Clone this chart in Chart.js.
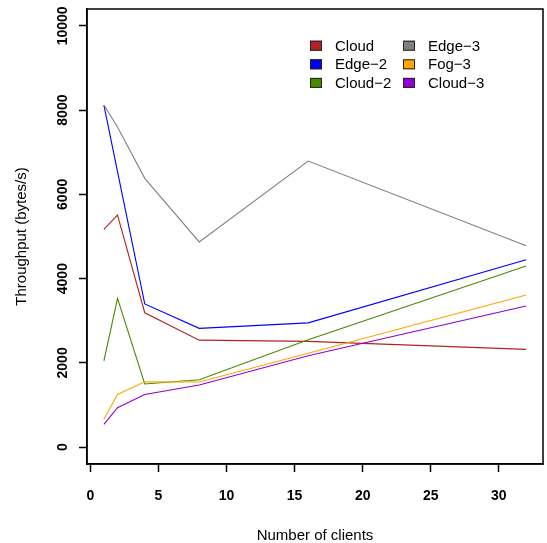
<!DOCTYPE html>
<html>
<head>
<meta charset="utf-8">
<script src="https://cdn.jsdelivr.net/npm/chart.js@4/dist/chart.umd.min.js"></script>
<style>
  html, body { margin: 0; padding: 0; background: #fff; }
  #wrap { width: 547px; height: 543px; }
</style>
</head>
<body>
<div id="wrap"><canvas id="c" width="547" height="543"></canvas></div>
<script>
// Number of concurrent clients per run
const clients = [1, 2, 4, 8, 16, 32];

// Throughput (bytes/s) per deployment
const cloud   = [5170, 5510, 3190, 2540, 2510, 2320];
const edge2   = [8120, 6540, 3400, 2820, 2950, 4450];
const cloud2  = [2050, 3530, 1500, 1600, 2550, 4300];
const edge3   = [8120, 7600, 6380, 4870, 6790, 4780];
const fog3    = [660, 1250, 1550, 1545, 2230, 3610];
const cloud3  = [540, 935, 1250, 1475, 2170, 3350];

const seriesNames  = ['Cloud', 'Edge\u22122', 'Cloud\u22122', 'Edge\u22123', 'Fog\u22123', 'Cloud\u22123'];
const seriesValues = [cloud, edge2, cloud2, edge3, fog3, cloud3];
const seriesColors = ['#B22222', '#0000FF', '#458B00', '#808080', '#FFA500', '#9400D3'];

const xTicks = [0, 5, 10, 15, 20, 25, 30];
const yTicks = [0, 2000, 4000, 6000, 8000, 10000];

const datasets = seriesNames.map((name, i) => ({
  label: name,
  data: clients.map((c, j) => ({ x: c, y: seriesValues[i][j] })),
  borderColor: seriesColors[i],
  backgroundColor: seriesColors[i],
  borderWidth: 1.1,
  pointRadius: 0,
  tension: 0,
  fill: false,
  order: seriesNames.length - i
}));

// Frame around the plotting region
const framePlugin = {
  id: 'frame',
  afterDraw(chart) {
    const { ctx, chartArea: a } = chart;
    ctx.save();
    ctx.strokeStyle = '#000';
    ctx.lineWidth = 1.5;
    ctx.strokeRect(a.left, a.top, a.right - a.left, a.bottom - a.top);
    ctx.restore();
  }
};

// Two-column key, filled column by column
const keyPlugin = {
  id: 'key',
  afterDraw(chart) {
    const { ctx } = chart;
    const ds = chart.data.datasets;
    const colX = [310, 403];
    const rowY = [45.7, 64.3, 82.9];
    ctx.save();
    ctx.font = '15px "Liberation Sans", Arial, sans-serif';
    ctx.textBaseline = 'middle';
    ctx.textAlign = 'left';
    ds.forEach((d, i) => {
      const col = Math.floor(i / 3), row = i % 3;
      const x = colX[col], y = rowY[row];
      ctx.fillStyle = d.borderColor;
      ctx.fillRect(x, y - 5, 12, 10);
      ctx.strokeStyle = '#222';
      ctx.lineWidth = 1;
      ctx.strokeRect(x + 0.5, y - 4.5, 11, 9);
      ctx.fillStyle = '#000';
      ctx.fillText(d.label, x + 25, y + 1);
    });
    ctx.restore();
  }
};

const tickFont = { family: '"Liberation Sans", Arial, sans-serif', size: 14, weight: 'bold' };
const titleFont = { family: '"Liberation Sans", Arial, sans-serif', size: 15 };
const plain = v => String(v);

new Chart(document.getElementById('c'), {
  type: 'line',
  data: { datasets },
  options: {
    responsive: false,
    animation: false,
    events: [],
    layout: { padding: { top: 9, right: 4, left: 0, bottom: 0 } },
    plugins: { legend: { display: false }, tooltip: { enabled: false } },
    scales: {
      x: {
        type: 'linear',
        min: -0.24,
        max: 33.24,
        afterBuildTicks: s => { s.ticks = xTicks.map(v => ({ value: v })); },
        afterFit: s => { s.height = 79; },
        grid: { drawOnChartArea: false, drawTicks: true, tickLength: 8, tickColor: '#000', tickWidth: 1.5 },
        border: { display: true, color: '#000', width: 1.5 },
        ticks: { color: '#000', font: tickFont, padding: 16, maxRotation: 0, autoSkip: false, callback: plain },
        title: { display: true, text: 'Number of clients', color: '#000', font: titleFont, padding: { top: 0, bottom: -2 } }
      },
      y: {
        type: 'linear',
        min: -400,
        max: 10400,
        afterBuildTicks: s => { s.ticks = yTicks.map(v => ({ value: v })); },
        afterFit: s => { s.width = 87; },
        grid: { drawOnChartArea: false, drawTicks: true, tickLength: 8, tickColor: '#000', tickWidth: 1.5 },
        border: { display: true, color: '#000', width: 1.5 },
        ticks: { color: '#000', font: tickFont, padding: -4, minRotation: 90, maxRotation: 90, crossAlign: 'center', autoSkip: false, callback: plain },
        title: { display: true, text: 'Throughput (bytes/s)', color: '#000', font: titleFont, padding: { top: 12.5, bottom: 0 } }
      }
    }
  },
  plugins: [framePlugin, keyPlugin]
});
</script>
</body>
</html>
